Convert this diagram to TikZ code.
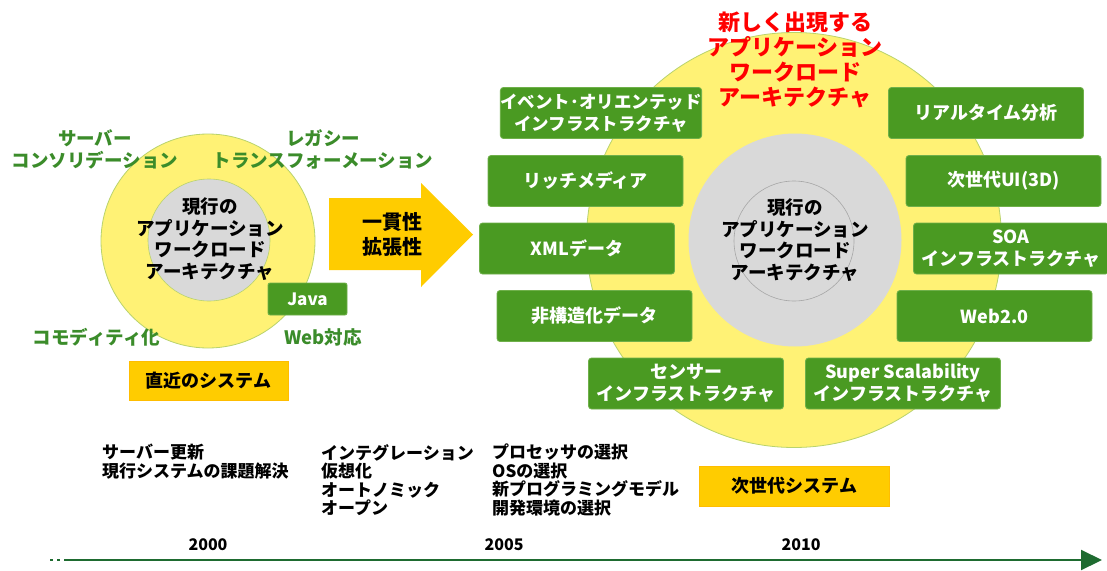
\documentclass[tikz,border=0pt]{standalone}
\usepackage{fontspec}
\setmainfont{Noto Sans CJK JP}
\usetikzlibrary{arrows.meta}
\definecolor{ringyellow}{HTML}{FFF275}
\definecolor{ringedge}{HTML}{B9D36C}
\definecolor{coregray}{HTML}{D9D9D9}
\definecolor{boxgreen}{HTML}{4A9A22}
\definecolor{boxedge}{HTML}{6FB04A}
\definecolor{labelgreen}{HTML}{3B8C2A}
\definecolor{gold}{HTML}{FFCC00}
\definecolor{linegreen}{HTML}{1E6B30}
\definecolor{newred}{HTML}{FF0000}
\begin{document}
\begin{tikzpicture}[x=1pt,y=-1pt,
  gbox/.style={draw=boxedge, line width=0.8pt, fill=boxgreen, rounded corners=3pt,
    minimum width=195pt, minimum height=51pt, text=white, align=center, inner sep=0pt,
    font=\bfseries\fontsize{18}{22}\selectfont},
  goldbox/.style={fill=gold, draw=gold!80!orange, line width=0.5pt, inner sep=0pt,
    font=\bfseries\fontsize{18}{22}\selectfont},
  ring/.style={circle, fill=ringyellow, draw=ringedge, line width=0.8pt, inner sep=0pt},
  core/.style={circle, fill=coregray, inner sep=0pt},
  coretext/.style={align=center, inner sep=0pt, font=\bfseries\fontsize{18.5}{21.5}\selectfont},
  glabel/.style={align=center, inner sep=0pt, text=labelgreen, font=\bfseries\fontsize{18.5}{22}\selectfont},
  note/.style={align=left, anchor=north west, inner sep=0pt, font=\bfseries\fontsize{17}{18.5}\selectfont},
  year/.style={inner sep=0pt, font=\bfseries\fontsize{16}{18}\selectfont}
]
\useasboundingbox (0,0) rectangle (1107,570);
\fill[white] (0,0) rectangle (1107,570);

% ---------- left: current system ----------
\node[ring, minimum size=214pt] (lring) at (208,241) {};
\node[core, draw=ringedge, line width=0.6pt, minimum size=122pt] (lcore) at (209,240) {};
\node[coretext] (ltext) at (210,239) {現行の\\アプリケーション\\ワークロード\\アーキテクチャ};
\node[draw=boxedge, line width=0.8pt, fill=boxgreen, rounded corners=2pt, minimum width=79pt,
  minimum height=32pt, inner sep=0pt, text=white, font=\bfseries\fontsize{17}{20}\selectfont]
  (java) at (307.5,299) {Java};
\node[glabel] (consol) at (95,149) {サーバー\\コンソリデーション};
\node[glabel] (legacy) at (323,149) {レガシー\\トランスフォーメーション};
\node[glabel] (commod) at (96.5,337) {コモディティ化};
\node[glabel] (webtai) at (323,337) {Web対応};
\node[goldbox, minimum width=159pt, minimum height=39pt] (recent) at (208.5,380.5) {直近のシステム};

% ---------- arrow ----------
\fill[gold] (329,198) -- (421,198) -- (421,183) -- (473,234.5) -- (421,287) -- (421,270) -- (329,270) -- cycle;
\node[align=center, inner sep=0pt, font=\bfseries\fontsize{20}{25}\selectfont] (arrowtext) at (392,234.5) {一貫性\\拡張性};

% ---------- right: next generation ----------
\node[ring, minimum size=415pt] (rring) at (794,240) {};
\node[core, minimum size=213pt] (rcore) at (795,240) {};
\node[circle, draw=gray!70, line width=0.6pt, minimum size=120pt, inner sep=0pt] (rinner) at (794,241) {};
\node[coretext] (rtext) at (795,240) {現行の\\アプリケーション\\ワークロード\\アーキテクチャ};
\node[align=center, inner sep=0pt, text=newred, font=\bfseries\fontsize{22}{25}\selectfont]
  (newtitle) at (795,59.5) {新しく出現する\\アプリケーション\\ワークロード\\アーキテクチャ};

\node[gbox, font=\bfseries\fontsize{17.5}{22}\selectfont] (event) at (601,113) {イベント･オリエンテッド\\インフラストラクチャ};
\node[gbox] (rich) at (585.5,181) {リッチメディア};
\node[gbox] (xml) at (577,248.5) {XMLデータ};
\node[gbox] (unstr) at (594.5,316) {非構造化データ};
\node[gbox] (sensor) at (686,383.5) {センサー\\インフラストラクチャ};
\node[gbox] (super) at (903,383.5) {Super Scalability\\インフラストラクチャ};
\node[gbox] (realtime) at (986,113) {リアルタイム分析};
\node[gbox] (nextui) at (1003.5,181) {次世代UI(3D)};
\node[gbox] (soa) at (1011,248.5) {SOA\\インフラストラクチャ};
\node[gbox] (web2) at (994.5,316) {Web2.0};

% ---------- bottom notes ----------
\node[note] (n2000) at (102,444) {サーバー更新\\現行システムの課題解決};
\node[note] (nint) at (321,444) {インテグレーション\\仮想化\\オートノミック\\オープン};
\node[note] (nproc) at (492,444) {プロセッサの選択\\OSの選択\\新プログラミングモデル\\開発環境の選択};
\node[goldbox, minimum width=190pt, minimum height=40pt] (nextsys) at (794.5,486) {次世代システム};

% ---------- timeline ----------
\node[year] (y2000) at (208,545) {2000};
\node[year] (y2005) at (504,545) {2005};
\node[year] (y2010) at (801,545) {2010};
\coordinate (tdots) at (50,560);
\coordinate (tstart) at (67,560);
\coordinate (tend) at (1102,560);
\draw[linegreen, line width=2pt, dash pattern=on 3pt off 4pt] (tdots) -- (tstart);
\draw[linegreen, line width=2pt, -{Triangle[length=21pt,width=20pt]}] (tstart) -- (tend);
\end{tikzpicture}
\end{document}
